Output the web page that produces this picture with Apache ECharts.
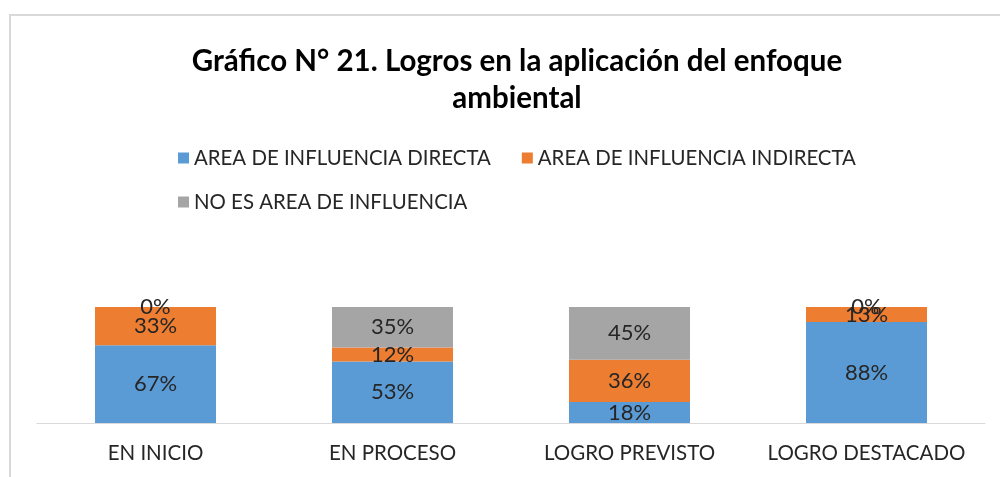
<!DOCTYPE html>
<html>
<head>
<meta charset="utf-8">
<script src="https://cdn.jsdelivr.net/npm/echarts@6/dist/echarts.min.js"></script>
<style>
html,body{margin:0;padding:0;background:#fff;}
#frame{position:absolute;left:9px;top:14px;width:1000px;height:480px;border:2px solid #d9d9d9;box-sizing:border-box;}
#chart{position:absolute;left:0;top:0;width:1000px;height:477px;}
</style>
</head>
<body>
<div id="frame"></div>
<div id="chart"></div>
<script>
var categories = ['EN INICIO', 'EN PROCESO', 'LOGRO PREVISTO', 'LOGRO DESTACADO'];
var directa = [67, 53, 18, 88];
var indirecta = [33, 12, 36, 13];
var noArea = [0, 35, 45, 0];
var seriesNames = ['AREA DE INFLUENCIA DIRECTA', 'AREA DE INFLUENCIA INDIRECTA', 'NO ES AREA DE INFLUENCIA'];
var colores = ['#5B9BD5', '#ED7D31', '#A5A5A5'];

// 100% apilado: cada barra se normaliza a su total
function share(arr, i) {
	var total = directa[i] + indirecta[i] + noArea[i];
	return arr[i] * 100 / total;
}
function buildSerie(name, arr, color) {
	return {
		name: name,
		type: 'bar',
		stack: 'total',
		barWidth: 121,
		itemStyle: { color: color },
		label: {
			show: true,
			position: 'inside',
			color: '#262626',
			fontFamily: 'Lato',
			fontSize: 22,
			formatter: function (p) { return arr[p.dataIndex] + '%'; }
		},
		data: arr.map(function (v, i) { return share(arr, i); })
	};
}

var myChart = echarts.init(document.getElementById('chart'));
myChart.setOption({
	animation: false,
	title: {
		text: 'Gráfico N° 21. Logros en la aplicación del enfoque\nambiental',
		left: 512,
		textAlign: 'center',
		top: 38,
		textStyle: {
			fontFamily: 'Lato',
			fontWeight: 'bold',
			fontSize: 29.5,
			lineHeight: 37,
			color: '#000'
		}
	},
	legend: [{
		data: [seriesNames[0], seriesNames[1]],
		left: 173,
		top: 143,
		itemWidth: 11,
		itemHeight: 11,
		itemGap: 31,
		icon: 'rect',
		textStyle: { fontFamily: 'Lato', fontSize: 20.4, color: '#262626' }
	}, {
		data: [seriesNames[2]],
		left: 173,
		top: 187,
		itemWidth: 11,
		itemHeight: 11,
		icon: 'rect',
		textStyle: { fontFamily: 'Lato', fontSize: 20.4, color: '#262626' }
	}],
	grid: { left: 37, right: 15, top: 307, bottom: 54 },
	xAxis: {
		type: 'category',
		data: categories,
		axisLine: { lineStyle: { color: '#d9d9d9', width: 1 } },
		axisTick: { show: false },
		axisLabel: { interval: 0, fontFamily: 'Lato', fontSize: 20.5, color: '#262626', margin: 20 }
	},
	yAxis: {
		type: 'value',
		min: 0,
		max: 100,
		show: false
	},
	series: [
		buildSerie(seriesNames[0], directa, colores[0]),
		buildSerie(seriesNames[1], indirecta, colores[1]),
		buildSerie(seriesNames[2], noArea, colores[2])
	]
});
</script>
</body>
</html>
